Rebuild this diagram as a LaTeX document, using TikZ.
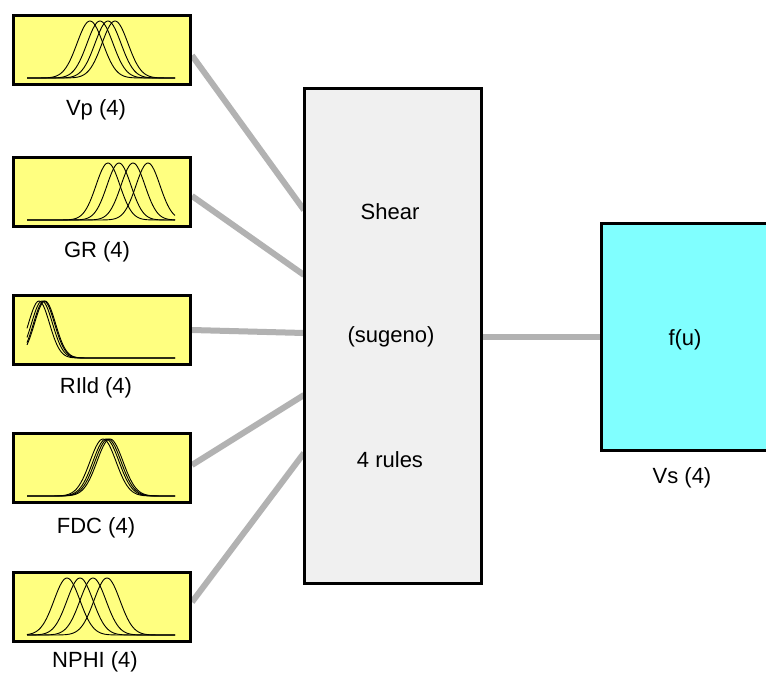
\documentclass[tikz,border=0pt]{standalone}
\usepackage{fontspec}
\setmainfont{Liberation Sans}
\usetikzlibrary{backgrounds,calc}
\definecolor{inyellow}{RGB}{255,255,128}
\definecolor{outcyan}{RGB}{128,255,255}
\definecolor{rulegray}{RGB}{240,240,240}
\definecolor{conngray}{RGB}{178,178,178}
\tikzset{
  inbox/.style={draw=black, line width=3pt, fill=inyellow, minimum width=177pt, minimum height=69pt, inner sep=0pt},
  rulebox/.style={draw=black, line width=3pt, fill=rulegray, minimum width=177pt, minimum height=495pt, inner sep=0pt},
  outbox/.style={draw=black, line width=3pt, fill=outcyan, minimum width=250pt, minimum height=227pt, inner sep=0pt, anchor=west},
  lbl/.style={font=\fontsize{22}{26}\selectfont, inner sep=0pt},
  conn/.style={draw=conngray, line width=6pt},
  mf/.style={draw=black, line width=0.9pt}
}
\newcommand\mfg[3]{\draw[mf] plot[domain=27:175,samples=100,smooth] (\x,{#1+64-57*exp(-0.5*((\x-#2)/#3)^2)});}
\begin{document}
\begin{tikzpicture}[x=1pt,y=-1pt]
\useasboundingbox (0,0) rectangle (766,682);
% input boxes
\node[inbox] (vp) at (102,50.5) {};
\node[inbox] (gr) at (102,192) {};
\node[inbox] (rild) at (102,330) {};
\node[inbox] (fdc) at (102,468) {};
\node[inbox] (nphi) at (102,607) {};
% membership functions
\foreach \c in {90,100,108,115} {\mfg{14}{\c}{13}}
\foreach \c in {108,119,133,148} {\mfg{156}{\c}{12}}
\foreach \c in {39,42,44,45} {\mfg{294}{\c}{10.5}}
\foreach \c in {103,106,108,110} {\mfg{432}{\c}{13}}
\foreach \c in {67,80,93,107} {\mfg{571}{\c}{13}}
% labels
\node[lbl] (lvp) at (96,110) {Vp (4)};
\node[lbl] (lgr) at (97,252) {GR (4)};
\node[lbl] (lrild) at (96,388) {RIld (4)};
\node[lbl] (lfdc) at (96,528) {FDC (4)};
\node[lbl] (lnphi) at (95,662) {NPHI (4)};
% rule box
\node[rulebox] (sh) at (393,336) {};
\node[lbl] (t1) at (390,212) {Shear};
\node[lbl] (t2) at (391,337) {(sugeno)};
\node[lbl] (t3) at (390,460) {4 rules};
% output box
\node[outbox] (vs) at (599.5,337) {};
\node[lbl] (fu) at (685,340) {f(u)};
\node[lbl] (lvs) at (682,478) {Vs (4)};
% connector endpoints
\coordinate (e1) at (304,210);
\coordinate (e2) at (304,275);
\coordinate (e3) at (304,333);
\coordinate (e4) at (304,395);
\coordinate (e5) at (304,453);
\begin{pgfonlayer}{background}
\fill[white] (0,0) rectangle (766,682);
\draw[conn] ($(vp.east)+(0,5)$) -- (e1);
\draw[conn] ($(gr.east)+(0,4)$) -- (e2);
\draw[conn] (rild.east) -- (e3);
\draw[conn] ($(fdc.east)+(0,-3)$) -- (e4);
\draw[conn] ($(nphi.east)+(0,-5)$) -- (e5);
\draw[conn] (sh.east |- vs.west) -- (vs.west);
\end{pgfonlayer}
\end{tikzpicture}
\end{document}
